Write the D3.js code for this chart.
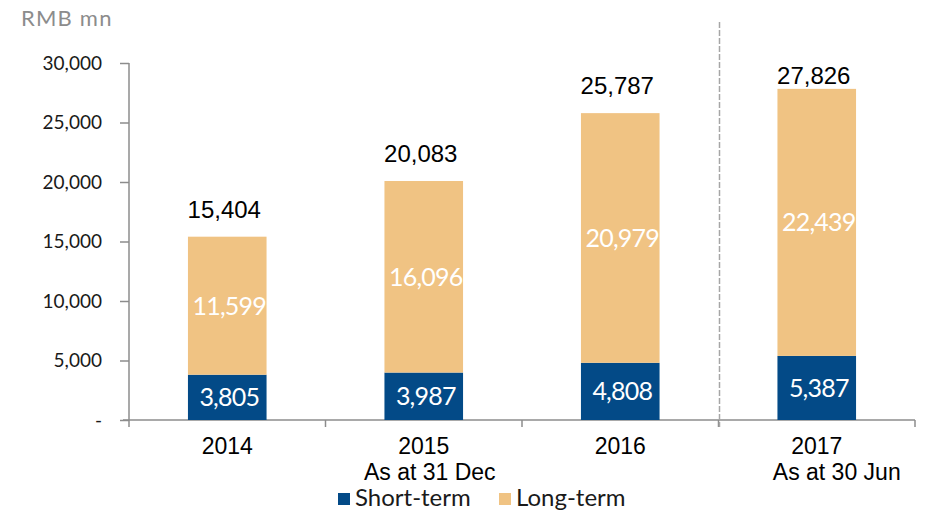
<!DOCTYPE html>
<html>
<head>
<meta charset="utf-8">
<script src="https://d3js.org/d3.v7.min.js"></script>
<style>
body { margin: 0; background: #fff; }
svg { display: block; }
</style>
</head>
<body>
<script>
// data
var years = ["2014", "2015", "2016", "2017"];
var subLabels = ["", "As at 31 Dec", "", "As at 30 Jun"];
var shortTerm = [3805, 3987, 4808, 5387];
var longTerm = [11599, 16096, 20979, 22439];
var totals = [15404, 20083, 25787, 27826];
var yTicks = [0, 5000, 10000, 15000, 20000, 25000, 30000];
var seriesNames = ["Short-term", "Long-term"];
var seriesColors = ["#034a87", "#f0c383"];

var W = 926, H = 512;
var svg = d3.select("body").append("svg")
    .attr("width", W)
    .attr("height", H);

var plotLeft = 129, plotRight = 915, plotTop = 63, plotBottom = 420;

var x = d3.scaleBand().domain(years).range([plotLeft, plotRight])
    .paddingInner(0.6).paddingOuter(0.3);
var y = d3.scaleLinear().domain([0, 30000]).range([plotBottom, plotTop]);

var sansFont = "Liberation Sans, Arial, sans-serif";
var gothFont = "Century Gothic, Lato, sans-serif";
var fmt = d3.format(",");

// unit label
svg.append("text")
    .attr("x", 21).attr("y", 26)
    .style("font-family", gothFont)
    .style("font-size", "22px")
    .style("letter-spacing", "1.2px")
    .style("fill", "#8c8c8c")
    .text("RMB mn");

// y axis
var yAxis = svg.append("g")
    .attr("transform", "translate(" + plotLeft + ",0)")
    .call(d3.axisLeft(y).tickValues(yTicks).tickSize(9).tickPadding(18)
        .tickFormat(function(d) { return d === 0 ? "-" : fmt(d); }));
yAxis.select(".domain").attr("stroke", "#8c8c8c").attr("stroke-width", 1.5)
    .attr("d", "M0," + plotTop + "V" + plotBottom);
yAxis.selectAll(".tick line").attr("stroke", "#8c8c8c").attr("stroke-width", 1.5);
yAxis.selectAll(".tick text")
    .style("font-family", gothFont)
    .style("font-size", "19px")
    .style("fill", "#1a1a1a");

// x axis line and category boundary ticks
svg.append("line")
    .attr("x1", plotLeft - 6).attr("x2", plotRight)
    .attr("y1", plotBottom).attr("y2", plotBottom)
    .attr("stroke", "#8c8c8c").attr("stroke-width", 1.5);

var step = x.step();
var bounds = years.map(function(d) { return x(d) - step * x.paddingInner() / 2; });
bounds.push(plotRight);
svg.selectAll(".xtick").data(bounds).enter().append("line")
    .attr("class", "xtick")
    .attr("x1", function(d) { return d; }).attr("x2", function(d) { return d; })
    .attr("y1", plotBottom).attr("y2", plotBottom + 7)
    .attr("stroke", "#8c8c8c").attr("stroke-width", 1.5);

// dashed separator before the half-year bar
var sepX = bounds[3] + 1;
svg.append("line")
    .attr("x1", sepX).attr("x2", sepX)
    .attr("y1", 22).attr("y2", plotBottom + 7)
    .attr("stroke", "#a6a6a6").attr("stroke-width", 1.5)
    .attr("stroke-dasharray", "6,2");

// stacked bars
var bw = x.bandwidth();
svg.selectAll(".short").data(years).enter().append("rect")
    .attr("class", "short")
    .attr("x", function(d) { return x(d); })
    .attr("width", bw)
    .attr("y", function(d, i) { return y(shortTerm[i]); })
    .attr("height", function(d, i) { return y(0) - y(shortTerm[i]); })
    .attr("fill", seriesColors[0]);

svg.selectAll(".long").data(years).enter().append("rect")
    .attr("class", "long")
    .attr("x", function(d) { return x(d); })
    .attr("width", bw)
    .attr("y", function(d, i) { return y(shortTerm[i] + longTerm[i]); })
    .attr("height", function(d, i) { return y(shortTerm[i]) - y(shortTerm[i] + longTerm[i]); })
    .attr("fill", seriesColors[1]);

// segment labels
function segLabel(vals, base) {
    svg.selectAll(null).data(years).enter().append("text")
        .attr("x", function(d) { return x(d) + bw / 2 + 2; })
        .attr("y", function(d, i) { return (y(base[i]) + y(base[i] + vals[i])) / 2; })
        .attr("dy", "0.36em")
        .attr("text-anchor", "middle")
        .style("font-family", gothFont)
        .style("font-size", "25px")
        .style("letter-spacing", "-0.8px")
        .style("fill", "#fff")
        .text(function(d, i) { return fmt(vals[i]); });
}
segLabel(shortTerm, [0, 0, 0, 0]);
segLabel(longTerm, shortTerm);

// totals above bars
svg.selectAll(".total").data(years).enter().append("text")
    .attr("class", "total")
    .attr("x", function(d) { return x(d) + bw / 2 - 3; })
    .attr("y", function(d, i) { return Math.max(y(totals[i]) - 19, 84); })
    .attr("text-anchor", "middle")
    .style("font-family", sansFont)
    .style("font-size", "24px")
    .style("fill", "#000")
    .text(function(d, i) { return fmt(totals[i]); });

// category labels
svg.selectAll(".cat").data(years).enter().append("text")
    .attr("class", "cat")
    .attr("x", function(d) { return x(d) + bw / 2; })
    .attr("y", 454)
    .attr("text-anchor", "middle")
    .style("font-family", sansFont)
    .style("font-size", "23px")
    .style("fill", "#000")
    .text(function(d) { return d; });

svg.selectAll(".sub").data(years).enter().append("text")
    .attr("class", "sub")
    .attr("x", function(d, i) { return x(d) + bw / 2 + (i === 3 ? 20 : 6); })
    .attr("y", 480)
    .attr("text-anchor", "middle")
    .style("font-family", sansFont)
    .style("font-size", "23px")
    .style("fill", "#000")
    .text(function(d, i) { return subLabels[i]; });

// legend
var legX = [338, 499];
seriesNames.forEach(function(name, i) {
    svg.append("rect")
        .attr("x", legX[i]).attr("y", 493)
        .attr("width", 12).attr("height", 12)
        .attr("fill", seriesColors[i]);
    svg.append("text")
        .attr("x", legX[i] + 17).attr("y", 506)
        .style("font-family", gothFont)
        .style("font-size", "24px")
        .style("fill", "#1a1a1a")
        .text(name);
});
</script>
</body>
</html>
